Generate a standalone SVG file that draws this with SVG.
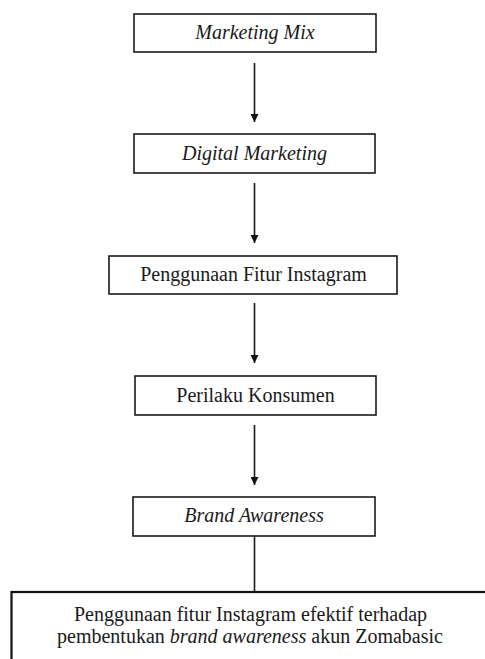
<svg xmlns="http://www.w3.org/2000/svg" width="485" height="659" viewBox="0 0 485 659">
<defs>
<style>
.box{fill:#fff;stroke:#1a1a1a;stroke-width:1.6}
.big{fill:#fff;stroke:#111;stroke-width:2.2}
.t{font-family:"Liberation Serif","Times New Roman",serif;font-size:20px;fill:#1a1a1a;text-anchor:middle}
.i{font-style:italic}
.c{stroke:#1a1a1a;stroke-width:1.6;fill:none}
</style>
<marker id="ah" viewBox="0 0 10 10" refX="10" refY="5" markerWidth="8" markerHeight="8" markerUnits="userSpaceOnUse" orient="auto">
<path d="M0,0 L10,5 L0,10 z" fill="#111"/>
</marker>
</defs>
<rect width="485" height="659" fill="#fff"/>
<g id="connectors">
<line class="c" x1="254.5" y1="63" x2="254.5" y2="122" marker-end="url(#ah)"/>
<line class="c" x1="254.5" y1="183" x2="254.5" y2="243" marker-end="url(#ah)"/>
<line class="c" x1="254.5" y1="303" x2="254.5" y2="363" marker-end="url(#ah)"/>
<line class="c" x1="254.5" y1="425" x2="254.5" y2="485" marker-end="url(#ah)"/>
<line class="c" x1="254.5" y1="536" x2="254.5" y2="592"/>
</g>
<g id="n1">
<rect class="box" x="134" y="14" width="242" height="38"/>
<text class="t i" x="255" y="39">Marketing Mix</text>
</g>
<g id="n2">
<rect class="box" x="134" y="134" width="241" height="39"/>
<text class="t i" x="254.5" y="160">Digital Marketing</text>
</g>
<g id="n3">
<rect class="box" x="109" y="256" width="288" height="38"/>
<text class="t" x="253.5" y="281">Penggunaan Fitur Instagram</text>
</g>
<g id="n4">
<rect class="box" x="135" y="376" width="241" height="39"/>
<text class="t" x="255.5" y="402">Perilaku Konsumen</text>
</g>
<g id="n5">
<rect class="box" x="133" y="497" width="242" height="39"/>
<text class="t i" x="254" y="522">Brand Awareness</text>
</g>
<g id="n6">
<rect class="big" x="11.5" y="592" width="490" height="90"/>
<text class="t" x="250.5" y="621">Penggunaan fitur Instagram efektif terhadap</text>
<text class="t" x="250" y="643">pembentukan <tspan class="i">brand awareness</tspan> akun Zomabasic</text>
</g>
</svg>
